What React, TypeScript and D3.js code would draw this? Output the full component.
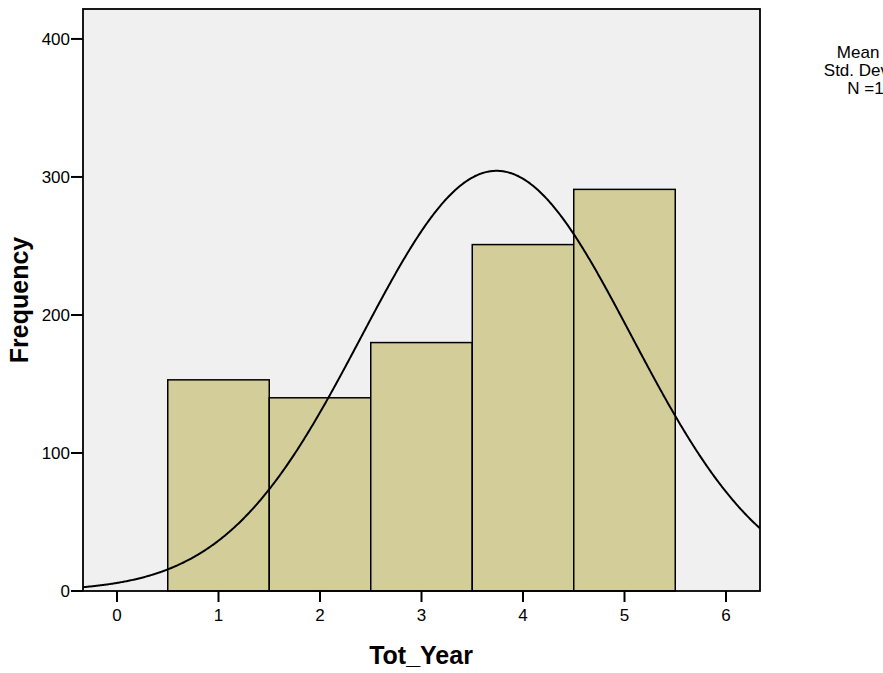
import React from "react";
import * as d3 from "d3";

const binCenters = [1, 2, 3, 4, 5];
const frequencies = [153, 140, 180, 251, 291];
const xTicks = [0, 1, 2, 3, 4, 5, 6];
const yTicks = [0, 100, 200, 300, 400];
const curveMean = 3.74;
const curveSd = 1.33;
const totalN = 1015;
const legendLines = ["Mean =3.74", "Std. Dev. =1.33", "N =1,015"];

const W = 883;
const H = 673;
const plot = { left: 83, right: 760, top: 9, bottom: 591 };

export default function App() {
  const x = d3.scaleLinear().domain([-0.335, 6.335]).range([plot.left, plot.right]);
  const y = d3.scaleLinear().domain([0, 421.7]).range([plot.bottom, plot.top]);

  const binWidth = 1;
  const normal = (v: number) =>
    (totalN * binWidth) / (curveSd * Math.sqrt(2 * Math.PI)) *
    Math.exp(-((v - curveMean) ** 2) / (2 * curveSd * curveSd));
  const xs = d3.range(-0.335, 6.3351, 0.01);
  const line = d3
    .line<number>()
    .x((d) => x(d))
    .y((d) => y(normal(d)))
    .curve(d3.curveLinear);

  const font = "Arial, 'Liberation Sans', sans-serif";

  return (
    <svg
      width={W}
      height={H}
      style={{ position: "absolute", left: 0, top: 0, background: "#ffffff" }}
      fontFamily={font}
    >
      <defs>
        <clipPath id="plotClip">
          <rect x={plot.left} y={plot.top} width={plot.right - plot.left} height={plot.bottom - plot.top} />
        </clipPath>
      </defs>
      <rect
        x={plot.left}
        y={plot.top}
        width={plot.right - plot.left}
        height={plot.bottom - plot.top}
        fill="#f0f0f0"
      />
      {binCenters.map((c, i) => (
        <rect
          key={c}
          x={x(c - binWidth / 2)}
          y={y(frequencies[i])}
          width={x(c + binWidth / 2) - x(c - binWidth / 2)}
          height={y(0) - y(frequencies[i])}
          fill="#d3ce99"
          stroke="#000"
          strokeWidth={1.5}
        />
      ))}
      <path
        d={line(xs) || ""}
        fill="none"
        stroke="#000"
        strokeWidth={2}
        clipPath="url(#plotClip)"
      />
      <rect
        x={plot.left}
        y={plot.top}
        width={plot.right - plot.left}
        height={plot.bottom - plot.top}
        fill="none"
        stroke="#000"
        strokeWidth={1.8}
      />
      {yTicks.map((t) => (
        <g key={t}>
          <line x1={plot.left - 12} x2={plot.left} y1={y(t)} y2={y(t)} stroke="#000" strokeWidth={2} />
          <text x={plot.left - 13} y={y(t)} dy="0.35em" textAnchor="end" fontSize={17} fill="#000">
            {t}
          </text>
        </g>
      ))}
      {xTicks.map((t) => (
        <g key={t}>
          <line x1={x(t)} x2={x(t)} y1={plot.bottom} y2={plot.bottom + 11} stroke="#000" strokeWidth={2} />
          <text x={x(t)} y={621} textAnchor="middle" fontSize={17} fill="#000">
            {t}
          </text>
        </g>
      ))}
      <text x={421} y={664} textAnchor="middle" fontSize={25} fontWeight="bold" fill="#000">
        Tot_Year
      </text>
      <text
        transform={`translate(28,300) rotate(-90)`}
        textAnchor="middle"
        fontSize={25}
        fontWeight="bold"
        fill="#000"
      >
        Frequency
      </text>
      {legendLines.map((s, i) => (
        <text key={s} x={882} y={58 + i * 18} textAnchor="middle" fontSize={17} fill="#000">
          {s}
        </text>
      ))}
    </svg>
  );
}
